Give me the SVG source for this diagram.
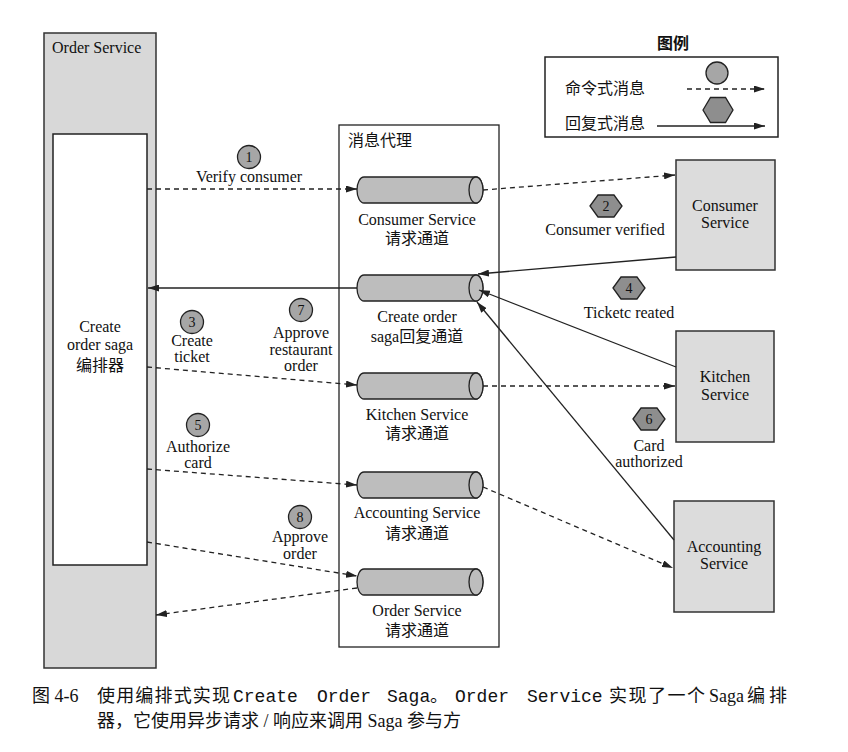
<svg xmlns="http://www.w3.org/2000/svg" width="848" height="752" viewBox="0 0 848 752">
<style>
text{font-family:"Liberation Serif","Noto Sans CJK SC",serif;font-size:16px;fill:#111}
.c{text-anchor:middle}
.n{font-size:14px}
.mono{font-family:"Liberation Mono",monospace;font-size:18px}
.cap{font-size:18px}
.box{fill:#dcdcdc;stroke:#333;stroke-width:1.5}
.cyl{fill:#bdbdbd;stroke:#222;stroke-width:1.3}
.circ{fill:#a6a6a6;stroke:#222;stroke-width:1.3}
.hex{fill:#8e8e8e;stroke:#222;stroke-width:1.3}
.dash{fill:none;stroke:#222;stroke-width:1.3;stroke-dasharray:5 4;marker-end:url(#ah)}
.solid{fill:none;stroke:#222;stroke-width:1.3;marker-end:url(#ah)}
</style>
<defs>
<marker id="ah" markerWidth="11" markerHeight="7" refX="11" refY="3.5" orient="auto" markerUnits="userSpaceOnUse">
<path d="M0,0 L11,3.5 L0,7 z" fill="#222"/>
</marker>
<g id="cylshape">
<path d="M7,-13 L119,-13 A7,13 0 0 1 119,13 L7,13 A7,13 0 0 1 7,-13 Z"/>
<ellipse cx="119" cy="0" rx="7" ry="13"/>
</g>
<polygon id="hexshape" points="-16,0 -8,-11 8,-11 16,0 8,11 -8,11"/>
</defs>

<rect width="848" height="752" fill="#ffffff"/>

<g id="order-service">
<rect class="box" x="44" y="33" width="112" height="635" style="fill:#d8d8d8"/>
<text x="52" y="53">Order Service</text>
</g>
<g id="orchestrator">
<rect x="53" y="134" width="94" height="431" fill="#ffffff" stroke="#222" stroke-width="1.5"/>
<text class="c" x="100" y="332">Create</text>
<text class="c" x="100" y="350">order saga</text>
<text class="c" x="100" y="371">编排器</text>
</g>

<g id="broker">
<rect x="339" y="125" width="160" height="522" fill="none" stroke="#222" stroke-width="1.3"/>
<text x="348" y="146">消息代理</text>
</g>

<g id="ch-consumer">
<use href="#cylshape" class="cyl" transform="translate(357,190)"/>
<text class="c" x="417" y="225">Consumer Service</text>
<text class="c" x="417" y="244">请求通道</text>
</g>
<g id="ch-reply">
<use href="#cylshape" class="cyl" transform="translate(357,288)"/>
<text class="c" x="417" y="322">Create order</text>
<text class="c" x="417" y="342">saga回复通道</text>
</g>
<g id="ch-kitchen">
<use href="#cylshape" class="cyl" transform="translate(357,386)"/>
<text class="c" x="417" y="420">Kitchen Service</text>
<text class="c" x="417" y="439">请求通道</text>
</g>
<g id="ch-accounting">
<use href="#cylshape" class="cyl" transform="translate(357,485)"/>
<text class="c" x="417" y="518">Accounting Service</text>
<text class="c" x="417" y="539">请求通道</text>
</g>
<g id="ch-order">
<use href="#cylshape" class="cyl" transform="translate(357,582)"/>
<text class="c" x="417" y="616">Order Service</text>
<text class="c" x="417" y="636">请求通道</text>
</g>

<g id="consumer-service">
<rect class="box" x="676" y="160" width="99" height="110"/>
<text class="c" x="725" y="211">Consumer</text>
<text class="c" x="725" y="228">Service</text>
</g>
<g id="kitchen-service">
<rect class="box" x="676" y="331" width="98" height="111"/>
<text class="c" x="725" y="382">Kitchen</text>
<text class="c" x="725" y="400">Service</text>
</g>
<g id="accounting-service">
<rect class="box" x="674" y="501" width="100" height="111"/>
<text class="c" x="724" y="552">Accounting</text>
<text class="c" x="724" y="569">Service</text>
</g>

<g id="connectors">
<line class="dash" x1="147" y1="189" x2="357" y2="189"/>
<line class="dash" x1="483" y1="190" x2="675" y2="175"/>
<line class="solid" x1="676" y1="257" x2="478" y2="274"/>
<line class="solid" x1="676" y1="367" x2="479" y2="290"/>
<line class="solid" x1="674" y1="540" x2="477" y2="302"/>
<line class="solid" x1="357" y1="288" x2="148" y2="288"/>
<line class="dash" x1="147" y1="367" x2="357" y2="385"/>
<line class="dash" x1="483" y1="386" x2="675" y2="386"/>
<line class="dash" x1="147" y1="469" x2="357" y2="485"/>
<line class="dash" x1="483" y1="487" x2="673" y2="568"/>
<line class="dash" x1="147" y1="542" x2="357" y2="576"/>
<line class="dash" x1="357" y1="588" x2="156" y2="615"/>
</g>

<g id="msg1">
<circle class="circ" cx="249" cy="157" r="11.5"/>
<text class="c n" x="249" y="162">1</text>
<text class="c" x="249" y="182">Verify consumer</text>
</g>
<g id="msg2">
<use href="#hexshape" class="hex" transform="translate(606,206)"/>
<text class="c n" x="606" y="211">2</text>
<text class="c" x="605" y="235">Consumer verified</text>
</g>
<g id="msg3">
<circle class="circ" cx="192" cy="322" r="11.5"/>
<text class="c n" x="192" y="327">3</text>
<text class="c" x="192" y="346">Create</text>
<text class="c" x="192" y="362">ticket</text>
</g>
<g id="msg4">
<use href="#hexshape" class="hex" transform="translate(629,288)"/>
<text class="c n" x="629" y="293">4</text>
<text class="c" x="629" y="318">Ticketc reated</text>
</g>
<g id="msg5">
<circle class="circ" cx="198" cy="425" r="11.5"/>
<text class="c n" x="198" y="430">5</text>
<text class="c" x="198" y="452">Authorize</text>
<text class="c" x="198" y="468">card</text>
</g>
<g id="msg6">
<use href="#hexshape" class="hex" transform="translate(649,419)"/>
<text class="c n" x="649" y="424">6</text>
<text class="c" x="649" y="451">Card</text>
<text class="c" x="649" y="467">authorized</text>
</g>
<g id="msg7">
<circle class="circ" cx="301" cy="310" r="11.5"/>
<text class="c n" x="301" y="315">7</text>
<text class="c" x="301" y="338">Approve</text>
<text class="c" x="301" y="355">restaurant</text>
<text class="c" x="301" y="371">order</text>
</g>
<g id="msg8">
<circle class="circ" cx="300" cy="517" r="11.5"/>
<text class="c n" x="300" y="522">8</text>
<text class="c" x="300" y="542">Approve</text>
<text class="c" x="300" y="559">order</text>
</g>

<g id="legend">
<text class="c" x="673" y="49" style="font-weight:bold">图例</text>
<rect x="545" y="57" width="233" height="80" fill="none" stroke="#222" stroke-width="1.5"/>
<circle class="circ" cx="717" cy="73" r="11"/>
<text x="565" y="94">命令式消息</text>
<line class="dash" x1="687" y1="89" x2="765" y2="89"/>
<polygon class="hex" points="703,110 710.5,97.5 725.5,97.5 733,110 725.5,122.5 710.5,122.5"/>
<text x="565" y="129">回复式消息</text>
<line class="solid" x1="657" y1="126" x2="765" y2="126"/>
</g>

<g id="caption">
<text class="cap" x="32" y="702">图 4-6</text>
<text class="cap" x="97" y="702" textLength="133" lengthAdjust="spacing">使用编排式实现</text>
<text class="mono" x="233" y="702">Create</text>
<text class="mono" x="317" y="702">Order</text>
<text class="mono" x="387" y="702">Saga</text>
<text class="cap" x="430" y="702">。</text>
<text class="mono" x="455" y="702">Order</text>
<text class="mono" x="527" y="702">Service</text>
<text class="cap" x="609" y="702" textLength="96" lengthAdjust="spacing">实现了一个</text>
<text class="cap" x="709" y="702">Saga</text>
<text class="cap" x="747" y="702" textLength="40" lengthAdjust="spacing">编排</text>
<text class="cap" x="97" y="727">器，它使用异步请求 / 响应来调用 Saga 参与方</text>
</g>
</svg>
